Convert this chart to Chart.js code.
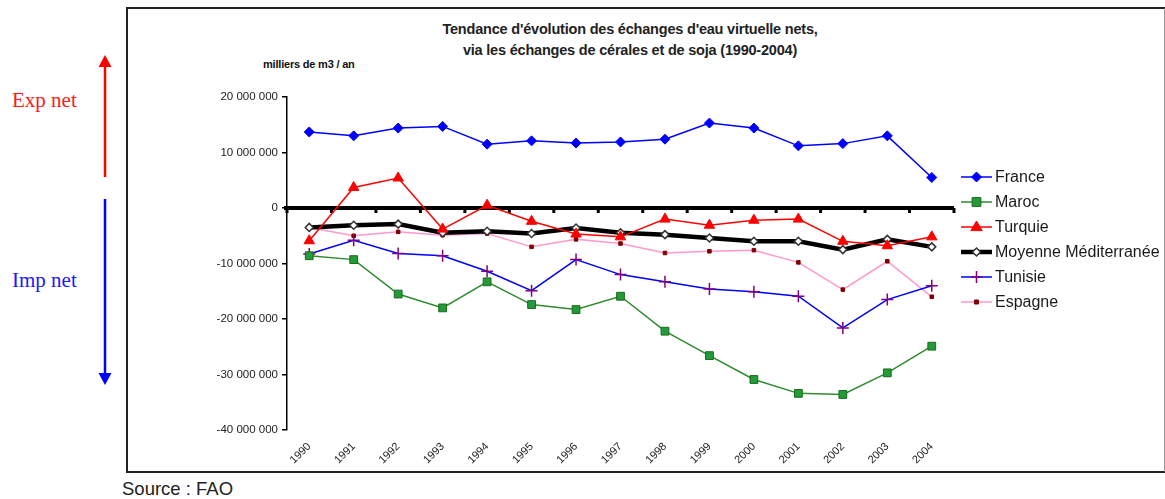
<!DOCTYPE html>
<html lang="fr">
<head>
<meta charset="utf-8">
<script src="https://cdn.jsdelivr.net/npm/chart.js@4/dist/chart.umd.min.js"></script>
<style>
    body { margin: 0; width: 1165px; height: 499px; background: #fff; position: relative; overflow: hidden; font-family: "Liberation Sans", Arial, sans-serif; }
    #frame { position: absolute; left: 126px; top: 7px; width: 1036px; height: 462px; border: 2px solid #222; border-right-color: #999; }
    #chart { position: absolute; left: 0; top: 0; }
    .txt { position: absolute; white-space: nowrap; }
    #title { left: 420px; top: 19px; width: 420px; text-align: center; font-size: 14.5px; font-weight: bold; line-height: 21px; color: #222; letter-spacing: -0.2px; }
    #unit { left: 263px; top: 58px; font-size: 11px; font-weight: bold; color: #111; letter-spacing: -0.2px; }
    #source { left: 122px; top: 478px; font-size: 18.5px; color: #222; }
    .side { font-family: "Liberation Serif", "Times New Roman", serif; font-size: 21px; left: 12px; }
    #exp { top: 88px; color: #ff1a1a; }
    #imp { top: 268px; color: #1a1aff; }
    #arrows { position: absolute; left: 0; top: 0; }
</style>
</head>
<body>
<div id="frame"></div>
<svg id="arrows" width="130" height="420">
    <line x1="105" y1="177" x2="105" y2="64" stroke="#ff0000" stroke-width="2.5"/>
    <polygon points="105,55 98.5,67 111.5,67" fill="#ff0000"/>
    <line x1="105" y1="199" x2="105" y2="376" stroke="#0000ff" stroke-width="2.5"/>
    <polygon points="105,385 98.5,373 111.5,373" fill="#0000ff"/>
</svg>
<div class="txt side" id="exp">Exp net</div>
<div class="txt side" id="imp">Imp net</div>
<div class="txt" id="title">Tendance d'évolution des échanges d'eau virtuelle nets,<br>via les échanges de cérales et de soja (1990-2004)</div>
<div class="txt" id="unit">milliers de m3 / an</div>
<div class="txt" id="source">Source : FAO</div>
<canvas id="chart" width="1165" height="499"></canvas>

<script>
// Années et séries (milliers de m3 / an)
const years = ['1990', '1991', '1992', '1993', '1994', '1995', '1996', '1997', '1998', '1999', '2000', '2001', '2002', '2003', '2004'];

const france  = [13700000, 13000000, 14400000, 14700000, 11500000, 12100000, 11700000, 11900000, 12400000, 15300000, 14400000, 11200000, 11600000, 13000000, 5500000];
const maroc   = [-8600000, -9300000, -15500000, -18000000, -13300000, -17400000, -18300000, -15900000, -22200000, -26600000, -30900000, -33400000, -33600000, -29700000, -24900000];
const turquie = [-5900000, 3700000, 5400000, -3800000, 500000, -2400000, -4700000, -5200000, -2000000, -3100000, -2200000, -2000000, -6000000, -6800000, -5200000];
const moyenne = [-3500000, -3100000, -2900000, -4450000, -4200000, -4600000, -3600000, -4450000, -4800000, -5400000, -6000000, -6000000, -7500000, -5650000, -7000000];
const tunisie = [-8300000, -5800000, -8200000, -8600000, -11400000, -14900000, -9300000, -12000000, -13300000, -14600000, -15100000, -15900000, -21600000, -16500000, -14000000];
const espagne = [-3500000, -5000000, -4300000, -4900000, -4600000, -7000000, -5650000, -6400000, -8100000, -7800000, -7600000, -9800000, -14700000, -9600000, -16000000];

const Y_MIN = -40000000;
const Y_MAX = 20000000;
const Y_STEP = 10000000;

// "20 000 000" : séparateur de milliers par espace
function fmt(v) {
    const s = String(Math.abs(v)).replace(/\B(?=(\d{3})+(?!\d))/g, ' ');
    return (v < 0 ? '-' : '') + s;
}

// Marqueur simple pour la légende
function marker(ctx, ds, x, y) {
    const r = ds.pointRadius;
    ctx.save();
    ctx.fillStyle = ds.pointBackgroundColor;
    ctx.strokeStyle = ds.pointBorderColor;
    ctx.lineWidth = ds.pointBorderWidth;
    ctx.beginPath();
    if (ds.pointStyle === 'rectRot') {
        ctx.moveTo(x, y - r); ctx.lineTo(x + r, y); ctx.lineTo(x, y + r); ctx.lineTo(x - r, y); ctx.closePath();
        ctx.fill(); ctx.stroke();
    } else if (ds.pointStyle === 'rect') {
        const h = r * 0.8;
        ctx.rect(x - h, y - h, 2 * h, 2 * h);
        ctx.fill(); ctx.stroke();
    } else if (ds.pointStyle === 'triangle') {
        ctx.moveTo(x, y - r); ctx.lineTo(x + r * 0.95, y + r * 0.6); ctx.lineTo(x - r * 0.95, y + r * 0.6); ctx.closePath();
        ctx.fill(); ctx.stroke();
    } else if (ds.pointStyle === 'cross') {
        ctx.moveTo(x - r, y); ctx.lineTo(x + r, y); ctx.moveTo(x, y - r); ctx.lineTo(x, y + r);
        ctx.stroke();
    }
    ctx.restore();
}

// Axe horizontal épais à zéro, avec ses graduations
const zeroAxis = {
    id: 'zeroAxis',
    beforeDatasetsDraw(chart) {
        const { ctx, chartArea, scales } = chart;
        const y0 = scales.y.getPixelForValue(0);
        const n = years.length;
        const w = (chartArea.right - chartArea.left) / n;
        ctx.save();
        ctx.strokeStyle = '#000';
        ctx.lineWidth = 4;
        ctx.beginPath();
        ctx.moveTo(chartArea.left - 3, y0);
        ctx.lineTo(chartArea.right, y0);
        ctx.stroke();
        ctx.fillStyle = '#000';
        for (let i = 0; i <= n; i++) {
            ctx.fillRect(chartArea.left + i * w - 1.5, y0, 3, 5);
        }
        ctx.restore();
    }
};

// Légende à droite : trait + marqueur
const sideLegend = {
    id: 'sideLegend',
    afterDraw(chart) {
        const ctx = chart.ctx;
        ctx.save();
        ctx.font = '16px "Liberation Sans", Arial, sans-serif';
        ctx.textBaseline = 'middle';
        chart.data.datasets.forEach((ds, i) => {
            const y = 177 + i * 25;
            ctx.strokeStyle = ds.borderColor;
            ctx.lineWidth = ds.borderWidth;
            ctx.beginPath();
            ctx.moveTo(961, y);
            ctx.lineTo(992, y);
            ctx.stroke();
            marker(ctx, ds, 976.5, y);
            ctx.fillStyle = '#1a1a1a';
            ctx.fillText(ds.label, 995, y + 1);
        });
        ctx.restore();
    }
};

const ctx = document.getElementById('chart').getContext('2d');
new Chart(ctx, {
    type: 'line',
    data: {
        labels: years,
        datasets: [
            {
                label: 'France', data: france,
                borderColor: '#0000ff', borderWidth: 1.5,
                pointStyle: 'rectRot', pointRadius: 5,
                pointBackgroundColor: '#0000ff', pointBorderColor: '#0000ff', pointBorderWidth: 1
            },
            {
                label: 'Maroc', data: maroc,
                borderColor: '#2e8b2e', borderWidth: 1.5,
                pointStyle: 'rect', pointRadius: 5.5,
                pointBackgroundColor: '#239b3a', pointBorderColor: '#1b6b1b', pointBorderWidth: 1
            },
            {
                label: 'Turquie', data: turquie,
                borderColor: '#ff0000', borderWidth: 1.5,
                pointStyle: 'triangle', pointRadius: 6,
                pointBackgroundColor: '#ff0000', pointBorderColor: '#ff0000', pointBorderWidth: 1
            },
            {
                label: 'Moyenne Méditerranée', data: moyenne,
                borderColor: '#000000', borderWidth: 4.5,
                pointStyle: 'rectRot', pointRadius: 4,
                pointBackgroundColor: '#ffffff', pointBorderColor: '#333333', pointBorderWidth: 1.5
            },
            {
                label: 'Tunisie', data: tunisie,
                borderColor: '#0000ff', borderWidth: 1.5,
                pointStyle: 'cross', pointRadius: 6,
                pointBackgroundColor: '#800080', pointBorderColor: '#800080', pointBorderWidth: 1.5
            },
            {
                label: 'Espagne', data: espagne,
                borderColor: '#ff99cc', borderWidth: 1.5,
                pointStyle: 'rect', pointRadius: 2.5,
                pointBackgroundColor: '#800000', pointBorderColor: '#800000', pointBorderWidth: 1
            }
        ]
    },
    options: {
        responsive: false,
        animation: false,
        layout: { padding: { top: 97, right: 211, left: 0, bottom: 0 } },
        plugins: {
            legend: { display: false },
            title: { display: false },
            tooltip: { enabled: false }
        },
        elements: { line: { tension: 0 } },
        scales: {
            x: {
                offset: true,
                grid: { display: false },
                border: { display: false },
                afterFit(scale) { scale.height = 69; },
                ticks: {
                    autoSkip: false,
                    minRotation: 45,
                    maxRotation: 45,
                    padding: 2,
                    color: '#222',
                    font: { family: '"Liberation Sans", Arial, sans-serif', size: 11 }
                }
            },
            y: {
                min: Y_MIN,
                max: Y_MAX,
                afterFit(scale) { scale.width = 287; },
                grid: { drawOnChartArea: false, drawTicks: true, tickLength: 5, color: '#000', lineWidth: 1.5 },
                border: { display: true, color: '#000', width: 1.5 },
                ticks: {
                    stepSize: Y_STEP,
                    padding: 4,
                    color: '#222',
                    font: { family: '"Liberation Sans", Arial, sans-serif', size: 11.5 },
                    callback: v => fmt(v)
                }
            }
        }
    },
    plugins: [zeroAxis, sideLegend]
});
</script>
</body>
</html>
